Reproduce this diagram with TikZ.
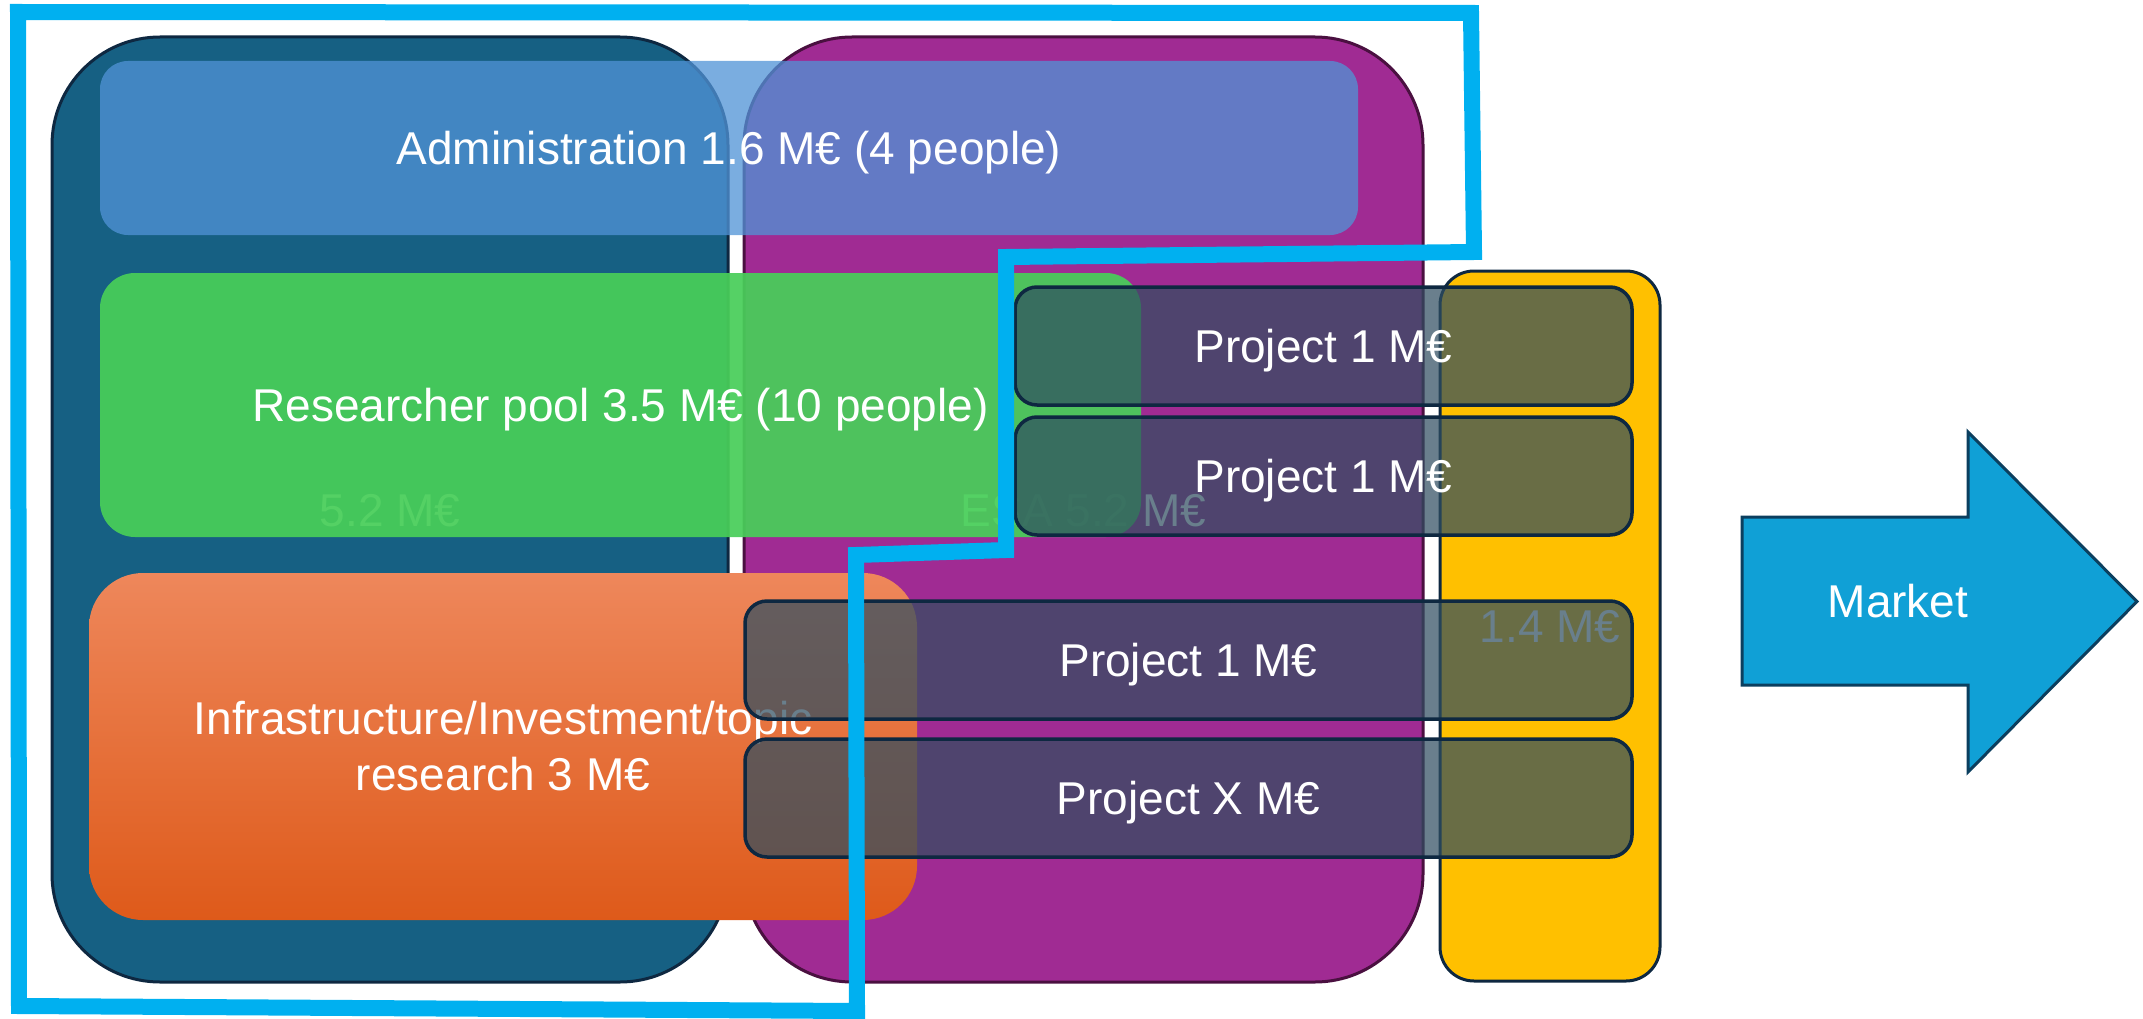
\documentclass[tikz,border=0pt]{standalone}
\usepackage{fontspec}
\setmainfont{Liberation Sans}
\newcommand\labfont{\fontsize{46}{56}\selectfont}
\definecolor{dblue}{HTML}{166083}
\definecolor{dkstroke}{HTML}{0E2841}
\definecolor{purp}{HTML}{A02B93}
\definecolor{purpstroke}{HTML}{4A1040}
\definecolor{yell}{HTML}{FFC000}
\definecolor{adminblue}{HTML}{5093D6}
\definecolor{pgreen}{HTML}{48CE59}
\definecolor{orTop}{HTML}{EE875B}
\definecolor{orMid}{HTML}{F0702F}
\definecolor{orBot}{HTML}{DE5A1A}
\definecolor{projfill}{HTML}{304E61}
\definecolor{cyanline}{HTML}{00B0F0}
\definecolor{arrowfill}{HTML}{10A0D6}
\definecolor{arrowstroke}{HTML}{0B3F5F}
\begin{document}
\begin{tikzpicture}[x=1pt,y=-1pt,
  capsonly/.style={text height=33pt, text depth=0pt},
  bigbox/.style={draw=dkstroke, line width=3pt, text=white, font=\labfont, inner sep=0pt, outer sep=0pt, capsonly},
  overlay box/.style={inner sep=0pt, outer sep=0pt, text=white, text opacity=1, font=\labfont},
  projbox/.style={draw=dkstroke, line width=3.5pt, fill=projfill, fill opacity=0.72, draw opacity=1,
    text=white, text opacity=1, font=\labfont, inner sep=0pt, outer sep=0pt,
    rounded corners=22pt, minimum height=118pt, capsonly},
  scope line/.style={draw=cyanline, line width=16pt, line join=miter},
  market arrow/.style={draw=arrowstroke, line width=3pt, fill=arrowfill, line join=miter}
]
\useasboundingbox (0,0) rectangle (2143,1019);

% large funding blocks
\node[bigbox, fill=dblue, rounded corners=108pt, minimum width=676pt, minimum height=945pt] (national) at (390,509.5) {5.2 M€};
\node[bigbox, fill=purp, draw=purpstroke, rounded corners=108pt, minimum width=679pt, minimum height=945pt] (esa) at (1083.5,509.5) {ESA 5.2 M€};
\node[bigbox, fill=yell, rounded corners=34pt, minimum width=220pt, minimum height=710pt] (industry) at (1550,626) {1.4 M€};

% overlay blocks
\node[overlay box, capsonly, fill=adminblue, fill opacity=0.76, rounded corners=28pt, minimum width=1258pt, minimum height=174pt] (admin) at (729,148) {Administration 1.6 M€ (4 people)};
\node[overlay box, capsonly, fill=pgreen, fill opacity=0.93, rounded corners=35pt, minimum width=1041pt, minimum height=264pt] (pool) at (620.5,405) {Researcher pool 3.5 M€ (10 people)};
\node[overlay box, top color=orTop, middle color=orMid, bottom color=orBot, rounded corners=54pt, minimum width=828pt, minimum height=347pt, align=center] (infra) at (503,746.5) {Infrastructure/Investment/topic\\research 3 M€};

% projects
\node[projbox, minimum width=617pt] (p1) at (1323.5,346) {Project 1 M€};
\node[projbox, minimum width=617pt] (p2) at (1323.5,476) {Project 1 M€};
\node[projbox, minimum width=887pt] (p3) at (1188.5,660) {Project 1 M€};
\node[projbox, minimum width=887pt] (p4) at (1188.5,798) {Project X M€};

% cyan scope outline
\draw[scope line] (18,12) -- (1471,13) -- (1474,252) -- (1006,257) -- (1006,550) -- (856,555) -- (857,1011) -- (19,1006) -- cycle;

% market arrow
\draw[market arrow] (1742,517) -- (1968,517) -- (1968,432) -- (2137,601.5) -- (1968,772) -- (1968,685) -- (1742,685) -- cycle;
\node[text=white, font=\labfont, inner sep=0pt, capsonly] (market) at (1898,601) {Market};
\end{tikzpicture}
\end{document}
